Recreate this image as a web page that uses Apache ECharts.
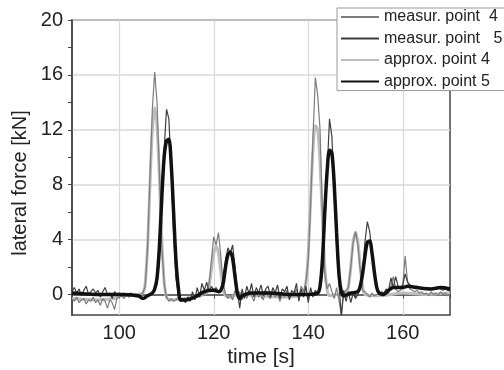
<!DOCTYPE html>
<html>
<head>
    <meta charset="utf-8">
    <title>Lateral force vs time</title>
    <script src="https://cdn.jsdelivr.net/npm/echarts@6.0.0/dist/echarts.min.js"></script>
    <style>
        body, html { margin: 0; padding: 0; width: 100%; height: 100%; overflow: hidden; background: #fff; }
        #main { width: 504px; height: 370px; }
    </style>
</head>
<body>
    <div id="main"></div>

    <script type="text/javascript">
        // measured signals, sampled every 0.5 s starting at 90 s
        var sampleStart = 90;
        var sampleStep = 0.5;

        var measPoint4 = [
            -0.3, -0.5, -0.2, -0.6, -0.4, -0.3, -0.7, -0.4, -0.5, -0.2,
            -0.6, -0.4, -0.8, -0.3, -0.5, -1.0, -0.4, -0.6, -1.1, -0.3,
            -0.2, -0.1, -0.3, 0.0, -0.2, -0.1, 0.0, -0.2, -0.1, 0.0,
            0.1, 0.6, 3.5, 8.5, 13.5, 16.2, 14.0, 9.0, 3.5, 0.8,
            -0.2, -0.5, -0.3, -0.5, -0.4, -0.2, -0.5, -0.3, -0.4, -0.2,
            -0.4, -0.1, -0.3, 0.0, -0.2, 0.1, -0.1, 0.3, 0.8, 2.5,
            4.2, 3.6, 4.5, 2.8, 0.8, 0.0, -0.3, 0.0, -0.4, 0.3,
            -0.2, 0.2, -0.4, 0.1, -0.3, 0.3, -0.1, -0.5, 0.2, -0.2,
            0.0, -0.4, 0.3, -0.1, -0.3, 0.2, -0.2, 0.1, -0.5, 0.0,
            -0.2, 0.3, -0.3, 0.1, -0.1, 0.4, -0.2, 0.6, 0.2, 0.9,
            2.5, 6.5, 11.5, 15.8, 14.5, 12.0, 6.0, 1.5, 0.4, 0.8,
            0.2, -0.3, 0.5, -0.4, -1.5, 0.1, 0.3, 0.5, 2.0, 3.8,
            4.6, 3.6, 1.8, 0.3, 0.2, 0.0, -0.2, 0.1, -0.1, 0.0,
            0.0, 0.1, -0.1, 0.2, 0.1, 0.6, 1.3, 0.4, 0.2, 0.3,
            0.5, 2.8, 1.0, 0.4, 0.3, 0.2, 0.3, 0.1, 0.2, 0.0,
            0.1, -0.1, 0.2, 0.0, 0.1, -0.1, 0.2, 0.0, 0.1, -0.1,
            0.0
        ];

        var measPoint5 = [
            0.2, 0.5, 0.1, 0.4, -0.1, 0.3, 0.6, 0.0, 0.2, 0.4,
            0.1, 0.3, -0.2, 0.2, 0.5, 0.0, 0.1, -0.3, 0.2, 0.0,
            0.1, 0.0, 0.1, -0.1, 0.0, 0.1, -0.1, 0.0, -0.2, -0.1,
            -0.3, -0.2, -0.1, 0.0, 0.1, 0.3, 0.8, 2.5, 6.5, 10.5,
            13.5, 12.8, 9.0, 4.5, 1.2, 0.0, -0.5, -0.3, -0.6, -0.2,
            -0.5, 0.2, -0.4, 0.5, -0.2, 0.8, 0.3, 0.9, 0.2, 0.6,
            0.3, 0.5, 0.2, 0.4, 1.2, 2.5, 3.4, 3.0, 3.6, 2.0,
            0.3, -1.0, 0.4, -0.3, 0.6, 0.0, 0.8, -0.2, 0.5, 0.1,
            0.7, -0.1, 0.4, 0.6, -0.2, 0.5, 0.1, 0.7, -0.3, 0.4,
            0.2, 0.6, -0.4, 0.3, 0.1, 0.8, -0.5, 0.4, -0.2, 0.6,
            -0.6, 0.5, -0.2, 0.3, 0.0, 0.4, 1.5, 5.0, 9.0, 12.8,
            11.5, 7.5, 3.5, 0.8, -1.6, 0.3, -0.5, 0.2, -0.6, 0.1,
            -0.3, 0.0, 0.5, 1.8, 3.8, 5.3, 4.6, 3.0, 1.5, 0.4,
            0.0, 0.2, 0.1, 0.4, 0.3, 1.2, 0.5, 1.3, 0.6, 0.5,
            0.7, 1.5, 0.9, 0.7, 0.6, 0.5, 0.6, 0.5, 0.4, 0.5,
            0.4, 0.5, 0.4, 0.5, 0.4, 0.5, 0.4, 0.3, 0.4, 0.3,
            0.3
        ];

        // approximations, [time, force]
        var approxPoint4 = [
            [90, -0.3], [95, -0.4], [99, -0.3], [100, -0.1], [104, 0], [105, 0.1],
            [105.5, 0.8], [106, 3.5], [106.5, 8], [107, 12], [107.5, 13.6], [108, 12.2],
            [108.5, 8.5], [109, 4], [109.5, 1], [110, -0.2], [111, -0.4], [114, -0.3],
            [117, -0.1], [118.5, 0.1], [119, 0.6], [119.5, 1.8], [120, 3.0], [120.5, 3.5],
            [121, 3.0], [121.5, 1.6], [122, 0.4], [122.5, -0.1], [123.5, -0.2], [125, 0.0],
            [130, -0.1], [135, -0.2], [138, -0.1], [139, 0.1], [139.5, 0.8], [140, 3],
            [140.5, 7], [141, 10.5], [141.5, 12.3], [142, 12], [142.5, 9.5], [143, 5.5],
            [143.5, 2], [144, 0.3], [144.5, -0.1], [146, 0], [148, 0.1], [148.5, 0.6],
            [149, 2], [149.5, 3.8], [150, 4.5], [150.5, 3.8], [151, 2.0], [151.5, 0.6],
            [152, 0], [155, -0.1], [160, 0.1], [165, 0.0], [170, 0.1]
        ];

        var approxPoint5 = [
            [90, 0.1], [95, 0.0], [100, 0.0], [104, -0.1], [105, -0.3], [106, -0.1],
            [107, 0.1], [107.5, 0.4], [108, 1.2], [108.5, 3.5], [109, 7], [109.5, 10],
            [110, 11.2], [110.5, 11.3], [111, 9.5], [111.5, 6], [112, 2.5], [112.5, 0.5],
            [113, -0.4], [114, -0.4], [116, -0.2], [118, 0.2], [120, 0.3], [121, 0.2],
            [121.5, 0.3], [122, 0.8], [122.5, 2], [123, 2.9], [123.5, 3.1], [124, 2.6],
            [124.5, 1.3], [125, 0.1], [125.5, -0.3], [126, -0.1], [128, 0.1], [132, 0.1],
            [136, 0.0], [140, 0.0], [142, 0.1], [142.5, 0.6], [143, 2.5], [143.5, 6],
            [144, 9], [144.5, 10.5], [145, 10.3], [145.5, 8], [146, 4.5], [146.5, 1.5],
            [147, 0.2], [147.5, -0.1], [149, 0.1], [150.5, 0.2], [151, 0.6], [151.5, 1.5],
            [152, 2.8], [152.5, 3.8], [153, 3.9], [153.5, 3.0], [154, 1.6], [154.5, 0.5],
            [155, 0.1], [156, 0.0], [157, 0.3], [158, 0.5], [160, 0.5], [161, 0.6],
            [163, 0.5], [166, 0.4], [168, 0.5], [170, 0.4]
        ];

        var xLabels = [100, 120, 140, 160];
        var xMinorTicks = [90, 110, 130, 150, 170];
        var yLabels = [0, 4, 8, 12, 16, 20];
        var yMinorTicks = [2, 6, 10, 14, 18];

        var seriesNames = ['measur. point  4', 'measur. point   5', 'approx. point 4', 'approx. point 5'];

        function toPairs(values) {
            return values.map(function (v, i) { return [sampleStart + i * sampleStep, v]; });
        }

        var font = 'Liberation Sans, Arial, sans-serif';

        document.addEventListener('DOMContentLoaded', function () {
            var myChart = echarts.init(document.getElementById('main'), null, { renderer: 'canvas' });

            var option = {
                backgroundColor: '#fff',
                animation: false,
                textStyle: { fontFamily: font },
                grid: {
                    left: 72, right: 54, top: 20, bottom: 55,
                    show: true, borderColor: '#444', borderWidth: 1.5, backgroundColor: 'transparent'
                },
                legend: {
                    orient: 'vertical',
                    left: 337, top: 8,
                    padding: [1, 10, 1, 3],
                    itemWidth: 38, itemHeight: 14, itemGap: 5.5,
                    itemStyle: { opacity: 0 },
                    backgroundColor: '#fff',
                    borderColor: '#9a9a9a', borderWidth: 1, borderRadius: 0,
                    textStyle: { fontFamily: font, fontSize: 16, lineHeight: 16, color: '#222' },
                    data: seriesNames
                },
                xAxis: [{
                    type: 'value', min: 90, max: 170,
                    axisLine: { lineStyle: { color: '#444', width: 1.5 } },
                    axisTick: { customValues: xLabels, inside: false, length: 4, lineStyle: { color: '#444' } },
                    axisLabel: { customValues: xLabels, fontSize: 20, color: '#222', margin: 8, fontFamily: font },
                    splitLine: { show: true, lineStyle: { color: '#d9d9d9', width: 1.2 } }
                }, {
                    type: 'value', min: 90, max: 170, position: 'bottom',
                    axisLine: { show: false },
                    axisTick: { customValues: xMinorTicks, length: 4, lineStyle: { color: '#444' } },
                    axisLabel: { show: false },
                    splitLine: { show: false }
                }],
                yAxis: [{
                    type: 'value', min: -1.5, max: 20,
                    axisLine: { show: true, lineStyle: { color: '#444', width: 1.5 } },
                    axisTick: { show: true, customValues: yLabels, length: 4, lineStyle: { color: '#444' } },
                    axisLabel: { customValues: yLabels, fontSize: 20, color: '#222', margin: 9, fontFamily: font },
                    splitLine: { show: true, lineStyle: { color: '#d9d9d9', width: 1.5 } }
                }, {
                    type: 'value', min: -1.5, max: 20, position: 'left',
                    axisLine: { show: false },
                    axisTick: { show: true, customValues: yMinorTicks, length: 4, lineStyle: { color: '#444' } },
                    axisLabel: { show: false },
                    splitLine: { show: false }
                }],
                graphic: [{
                    type: 'text',
                    x: 20, y: 183, rotation: Math.PI / 2,
                    style: {
                        text: 'lateral force [kN]', fontSize: 20, fontFamily: font, fill: '#222',
                        align: 'center', verticalAlign: 'middle'
                    }
                }, {
                    type: 'text',
                    x: 261, y: 357,
                    style: {
                        text: 'time [s]', fontSize: 21, fontFamily: font, fill: '#222',
                        align: 'center', verticalAlign: 'middle'
                    }
                }],
                series: [{
                    name: seriesNames[2], type: 'line', symbol: 'none', smooth: 0.3,
                    data: approxPoint4, z: 2,
                    lineStyle: { color: '#bdbdbd', width: 3 }, itemStyle: { color: '#bdbdbd' }
                }, {
                    name: seriesNames[0], type: 'line', symbol: 'none',
                    data: toPairs(measPoint4), z: 3,
                    lineStyle: { color: '#7c7c7c', width: 1.2 }, itemStyle: { color: '#7c7c7c' }
                }, {
                    name: seriesNames[1], type: 'line', symbol: 'none',
                    data: toPairs(measPoint5), z: 4,
                    lineStyle: { color: '#3e3e3e', width: 1.2 }, itemStyle: { color: '#3e3e3e' }
                }, {
                    name: seriesNames[3], type: 'line', symbol: 'none', smooth: 0.3,
                    data: approxPoint5, z: 5,
                    lineStyle: { color: '#111', width: 3.5 }, itemStyle: { color: '#111' }
                }]
            };

            myChart.setOption(option);
        });
    </script>
</body>
</html>
